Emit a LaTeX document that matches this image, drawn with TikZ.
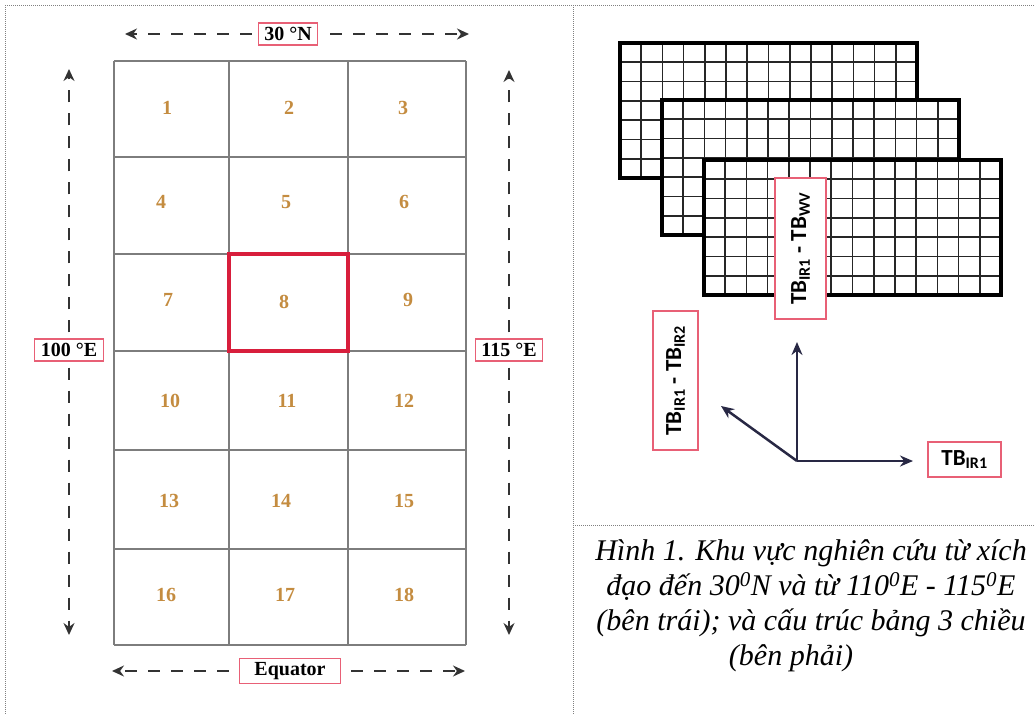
\documentclass[tikz,border=0pt]{standalone}
\usepackage{fontspec}
\setmainfont{Liberation Serif}
\newfontfamily\tbfont{Carlito}
\usepackage{tikz}
\usetikzlibrary{arrows.meta,calc,positioning}

\definecolor{numgold}{RGB}{196,140,64}
\definecolor{lblred}{RGB}{232,96,118}
\definecolor{cellgray}{RGB}{125,125,125}
\definecolor{boxred}{RGB}{216,30,60}
\definecolor{axisnavy}{RGB}{40,40,68}

\begin{document}
\begin{tikzpicture}[x=1pt,y=-1pt]
	\tikzstyle{panelline}=[gray,line width=1pt,dash pattern=on 1pt off 1pt]
	\tikzstyle{cellline}=[cellgray,line width=2pt]
	\tikzstyle{cellnum}=[text=numgold,font=\fontsize{20}{20}\selectfont\bfseries]
	\tikzstyle{geolbl}=[draw=lblred,line width=1.3pt,fill=white,minimum height=22pt,inner xsep=6pt,font=\fontsize{20}{20}\selectfont\bfseries]
	\tikzstyle{dimarrow}=[black!80,line width=1.6pt,dash pattern=on 12pt off 11pt,-{Stealth[length=12pt,width=11pt]}]
	\tikzstyle{tbbox}=[draw=lblred,line width=1.5pt,fill=white,font=\tbfont\fontsize{23}{23}\selectfont\bfseries]
	\tikzstyle{axisarrow}=[axisnavy,line width=2.5pt,-{Stealth[length=13pt,width=11pt]}]
	\tikzstyle{thingrid}=[black!85,line width=1.6pt]
	\tikzstyle{thickgrid}=[black,line width=3.5pt]

	\useasboundingbox (0,0) rectangle (1035,715);

	%% panel borders
	\draw[panelline] (5,5) -- (1035,5);
	\draw[panelline] (5,5) -- (5,715);
	\draw[panelline] (573,5) -- (573,715);
	\draw[panelline] (573,525) -- (1035,525);

	%% study area grid
	\foreach \x in {114,229,348,466}
		\draw[cellline] (\x,61) -- (\x,645);
	\foreach \y in {61,157,254,351,450,549,645}
		\draw[cellline] (114,\y) -- (466,\y);
	\draw[boxred,line width=4pt] (229,254) rectangle (348,351);

	\foreach \n/\x/\y in {1/167/108,2/289/108,3/403/108,
		4/161/202,5/286/202,6/404/202,
		7/168/300,8/284/302,9/408/300,
		10/170/401,11/287/401,12/404/401,
		13/169/501,14/281/501,15/404/501,
		16/166/595,17/285/595,18/404/595}
		\node[cellnum] (c\n) at (\x,\y) {\n};

	%% borders of the area
	\node[geolbl] (latN) at (288,34) {30 °N};
	\node[geolbl,minimum width=101pt,minimum height=25pt] (equator) at (290,671) {Equator};
	\node[geolbl] (lonW) at (69,350) {100 °E};
	\node[geolbl] (lonE) at (509,350) {115 °E};

	\coordinate (nLeft) at (125,34);
	\coordinate (nRight) at (469,34);
	\coordinate (eqLeft) at (112,671);
	\coordinate (eqRight) at (465,671);
	\coordinate (wTop) at (69,69);
	\coordinate (wBot) at (69,635);
	\coordinate (eTop) at (509,70);
	\coordinate (eBot) at (509,635);

	\draw[dimarrow,shorten <=6pt] (latN) -- (nLeft);
	\draw[dimarrow,shorten <=12pt] (latN) -- (nRight);
	\draw[dimarrow,shorten <=10pt] (equator) -- (eqLeft);
	\draw[dimarrow,shorten <=10pt] (equator) -- (eqRight);
	\draw[dimarrow,shorten <=6pt] (lonW) -- (wTop);
	\draw[dimarrow,shorten <=6pt] (lonW) -- (wBot);
	\draw[dimarrow,shorten <=6pt] (lonE) -- (eTop);
	\draw[dimarrow,shorten <=6pt] (lonE) -- (eBot);

	%% stacked 3D table
	\foreach \gx/\gy in {620/43,662/100,704/160}{
		\fill[white] (\gx,\gy) rectangle ++(297,135);
		\foreach \i in {1,...,13}
			\draw[thingrid] (\gx+\i*21.214,\gy) -- ++(0,135);
		\foreach \j in {1,...,6}
			\draw[thingrid] (\gx,\gy+\j*19.286) -- ++(297,0);
		\draw[thickgrid] (\gx,\gy) rectangle ++(297,135);
	}

	\node[tbbox,rotate=90,minimum width=141pt,minimum height=51pt] (tbwv) at (800.5,248.5) {TB\textsubscript{IR1} - TB\textsubscript{WV}};
	\node[tbbox,rotate=90,minimum width=139pt,minimum height=45pt] (tbir2) at (675.5,380.5) {TB\textsubscript{IR1} - TB\textsubscript{IR2}};
	\node[tbbox,minimum width=73pt,minimum height=35pt] (tbir1) at (964.5,459.5) {TB\textsubscript{IR1}};

	%% axes
	\coordinate (orig) at (797,461);
	\coordinate (axUp) at (797,342);
	\coordinate (axRight) at (913,461);
	\coordinate (axDiag) at (721,406);
	\draw[axisarrow] (orig) -- (axUp);
	\draw[axisarrow] (orig) -- (axRight);
	\draw[axisarrow] (orig) -- (axDiag);

	%% caption
	\node[font=\fontsize{30}{35}\selectfont\itshape,align=center] (caption) at (811,606)
		{Hình 1. Khu vực nghiên cứu từ xích\\
		 đạo đến 30\textsuperscript{0}N và từ 110\textsuperscript{0}E - 115\textsuperscript{0}E\\
		 (bên trái); và cấu trúc bảng 3 chiều\\
		 \hspace*{-40pt}(bên phải)};
\end{tikzpicture}
\end{document}
